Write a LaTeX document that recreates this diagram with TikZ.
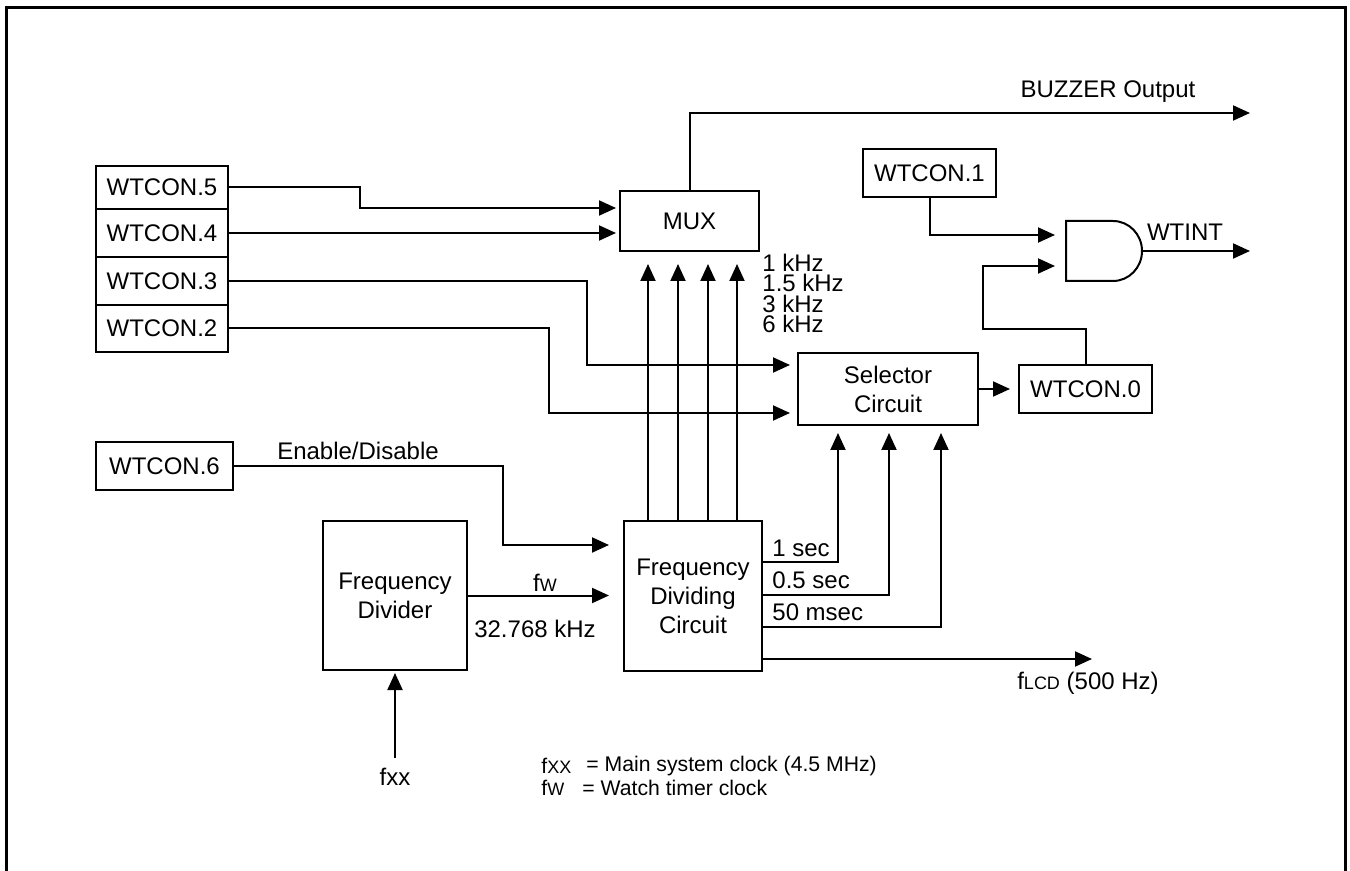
\documentclass[tikz,border=0pt]{standalone}
\usepackage{fontspec}
\setmainfont{Liberation Sans}
\usetikzlibrary{arrows.meta,calc}
\newcommand{\smc}[1]{{\fontsize{9}{9}\selectfont #1}}
\begin{document}
\begin{tikzpicture}[x=0.5pt,y=-0.5pt,
  every node/.style={font=\fontsize{12}{14.5}\selectfont},
  box/.style={draw,line width=1pt,inner sep=0pt,align=center},
  ln/.style={line width=1pt},
  arr/.style={line width=1pt,-{Triangle[length=8.5pt,width=7.5pt]}},
  lbl/.style={inner sep=0pt},
  leg/.style={inner sep=0pt,anchor=west,font=\fontsize{10.6}{13}\selectfont}]
\useasboundingbox (0,0) rectangle (1350,871);
\draw[line width=1.5pt] (6,871) -- (6,8) -- (1345,8) -- (1345,871);

% boxes
\node[box,minimum width=66pt,minimum height=21.5pt] (w5) at (162,187.5) {WTCON.5};
\node[box,minimum width=66pt,minimum height=24pt] (w4) at (162,233) {WTCON.4};
\node[box,minimum width=66pt,minimum height=24pt] (w3) at (162,281) {WTCON.3};
\node[box,minimum width=66pt,minimum height=23.5pt] (w2) at (162,328.5) {WTCON.2};
\node[box,minimum width=68.5pt,minimum height=24pt] (w6) at (164.5,466) {WTCON.6};
\node[box,minimum width=69.5pt,minimum height=30pt] (mux) at (689.5,221) {MUX};
\node[box,minimum width=90pt,minimum height=36pt] (sel) at (888,389) {Selector\\Circuit};
\node[box,minimum width=66.5pt,minimum height=24pt] (w0) at (1085.5,389) {WTCON.0};
\node[box,minimum width=66.5pt,minimum height=24pt] (w1) at (929.5,173) {WTCON.1};
\node[box,minimum width=72pt,minimum height=74.5pt] (fdiv) at (395,595.5) {Frequency\\Divider};
\node[box,minimum width=69pt,minimum height=75pt] (fdc) at (693,596) {Frequency\\Dividing\\Circuit};

% AND gate
\draw[ln] (1066,221) -- (1113,221) arc[start angle=90,end angle=-90,x radius=14.5pt,y radius=15pt] -- (1066,281) -- cycle;
\coordinate (and1) at (1066,235);
\coordinate (and2) at (1066,266);
\coordinate (andout) at (1142,251);
\coordinate (wtint) at (1250,251);
\coordinate (buzz) at (1250,113);
\coordinate (lcd) at (1092,659);

% MUX inputs
\draw[arr,shorten >=1.5pt] (w5.east) -- ++(131,0) |- ([yshift=6.5pt]mux.west);
\draw[arr,shorten >=1.5pt] (w4.east) -- (w4.east -| mux.west);
% selector inputs
\draw[arr,shorten >=3.5pt] (w3.east) -| (587,365) -- ([yshift=12pt]sel.west);
\draw[arr,shorten >=3.5pt] (w2.east) -| (549,413) -- ([yshift=-12pt]sel.west);
% buzzer
\draw[arr] (mux.north) |- (buzz);
\node[lbl] (buzl) at (1108,92) {BUZZER Output};
% fdc to mux
\foreach \dx in {-22.5,-7.5,7.5,22}{
  \draw[arr,shorten >=6pt] ([xshift=\dx pt]fdc.north) -- ([xshift=\dx pt]fdc.north |- mux.south);
}
\node[lbl,anchor=north west,align=left,font=\fontsize{12}{10.25}\selectfont] (khz) at (762,253.5) {1 kHz\\1.5 kHz\\3 kHz\\6 kHz};
% selector to w0
\draw[arr,shorten >=4pt] (sel.east) -- (w0.west);
% w0 to and
\draw[arr,shorten >=5.5pt] (w0.north) |- (983,329) |- (and2);
\draw[arr,shorten >=5.5pt] (w1.south) |- (and1);
\draw[arr] (andout) -- (wtint);
\node[lbl] (wtintl) at (1185,232) {WTINT};
% enable
\draw[arr,shorten >=7pt] (w6.east) -| (503,545) -- ([yshift=25.5pt]fdc.west);
\node[lbl] (enl) at (358,451) {Enable/Disable};
% fw
\draw[arr,shorten >=7pt] (fdiv.east) -- (fdiv.east -| fdc.west);
\node[lbl] (fwl) at (545,583) {f\smc{W}};
\node[lbl] (khzl) at (535,629) {32.768 kHz};
% fdc to selector
\draw[arr,shorten >=3.5pt] ([yshift=17pt]fdc.east) -| ([xshift=-25pt]sel.south);
\draw[arr,shorten >=3.5pt] ([yshift=0.5pt]fdc.east) -| ([xshift=0.5pt]sel.south);
\draw[arr,shorten >=3.5pt] ([yshift=-15.5pt]fdc.east) -| ([xshift=26.5pt]sel.south);
\node[lbl,anchor=west] (s1) at (772,548) {1 sec};
\node[lbl,anchor=west] (s2) at (772,580) {0.5 sec};
\node[lbl,anchor=west] (s3) at (772,612) {50 msec};
% lcd
\draw[arr] ([yshift=-31.5pt]fdc.east) -- (lcd);
\node[lbl] (lcdl) at (1088,683) {f\smc{LCD} (500 Hz)};
% fxx
\node[lbl] (fxx) at (395,777) {fxx};
\draw[arr,shorten <=5pt,shorten >=1pt] (fxx.north) -- (fdiv.south);
% legend
\node[leg] (lg1a) at (541,766) {f\smc{XX}};
\node[leg] (lg1b) at (586,766) {= Main system clock (4.5 MHz)};
\node[leg] (lg2a) at (541,788) {f\smc{W}};
\node[leg] (lg2b) at (582,788) {= Watch timer clock};
\end{tikzpicture}
\end{document}
